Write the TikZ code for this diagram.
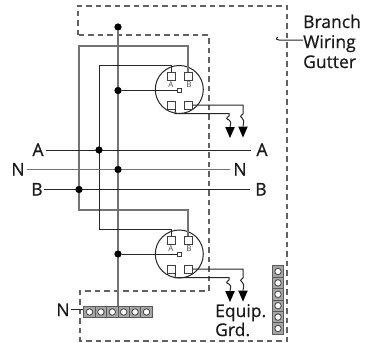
\documentclass[tikz,border=0pt]{standalone}
\usepackage{fontspec}
\setmainfont[BoldFont={Open Sans},BoldFeatures={FakeBold=0.6}]{Open Sans}
\tikzset{
 lbl/.style={inner sep=0pt,font=\bfseries\fontsize{17.5}{20}\selectfont,text=black!90},
 tiny/.style={inner sep=0pt,font=\fontsize{8}{8}\selectfont,text=black!70},
 term/.style={draw=black!75,fill=white,line width=1pt,minimum size=8pt,inner sep=0pt},
 smallterm/.style={draw=black!75,fill=white,line width=.9pt,minimum size=4pt,inner sep=0pt},
 meter/.style={draw=black!85,line width=1pt,circle,minimum size=48pt,inner sep=0pt},
 jdot/.style={circle,fill=black,minimum size=7pt,inner sep=0pt},
 gutter/.style={draw=black!62,line width=2pt,dash pattern=on 5.5pt off 4pt},
 darkw/.style={draw=black!85,line width=1pt},
 grayw/.style={draw=black!55,line width=1.5pt},
 gnd/.style={fill=black},
 barcell/.style={draw=black!65,fill=black!35,line width=.8pt,minimum size=11.4pt,inner sep=0pt},
 hole/.style={circle,draw=black!70,fill=white,line width=.9pt,minimum size=6.5pt,inner sep=0pt},
}
\begin{document}
\begin{tikzpicture}[x=1pt,y=-1pt]
\useasboundingbox (0,0) rectangle (365,343);
% gutter
\draw[gutter] (77.5,35) -- (77.5,5.5) -- (287,5.5) -- (287,340.5) -- (80,340.5) -- (80,291) -- (208.5,291) -- (208.5,35) -- cycle;
% coordinates
\coordinate (ntop) at (118,27);
\coordinate (a1) at (46,150); \coordinate (a2) at (251,150);
\coordinate (n1) at (27,169.5); \coordinate (n2) at (230,169.5);
\coordinate (b1) at (44,189.5); \coordinate (b2) at (250,189.5);
\coordinate (g1) at (230,127); \coordinate (g2) at (243,126.5);
\coordinate (g3) at (230,291); \coordinate (g4) at (243,290.5);
% meters
\node[meter] (m1) at (179.3,89.5) {};
\node[meter] (m2) at (179.3,254) {};
% bars
\foreach \i in {0,...,5} {
 \node[barcell] (h\i) at ({89.5+\i*11.4},312) {};
 \node[hole] at (h\i) {};
 \node[barcell] (v\i) at (278,{271.5+\i*11.4}) {};
 \node[hole] at (v\i) {};
}
% wires
\node[jdot] (dtop) at (ntop) {};
\node[jdot] (d1) at (118,90.5) {};
\node[jdot] (d2) at (118,254) {};
\node[jdot] (da) at (99,150) {};
\node[jdot] (dn) at (118,169.5) {};
\node[jdot] (db) at (79,189.5) {};
\node[term] (a1t) at (171,76) {}; \node[term] (b1t) at (188,76) {};
\node[term] (a1b) at (171,105) {}; \node[term] (b1b) at (188,105) {};
\node[term] (a2t) at (171,240) {}; \node[term] (b2t) at (188,240) {};
\node[term] (a2b) at (171,269) {}; \node[term] (b2b) at (188,269) {};
\node[smallterm] (s1) at (179.5,90.5) {};
\node[smallterm] (s2) at (179.5,254) {};
\draw[grayw] (dtop) -- (h2.north -| dtop);
\draw[grayw] (b1t.north) |- (79,46) -- (79,210) -| (b2t.north);
\draw[darkw] (a1t.north) |- (99,65) -- (99,229) -| (a2t.north);
\draw[darkw] (a1) -- (a2);
\draw[grayw,line width=1.3pt] (n1) -- (n2);
\draw[darkw] (b1) -- (b2);
\draw[darkw] (d1) -- (s1);
\draw[darkw] (d2) -- (s2);
% grounds
\foreach \g in {g1,g2,g3,g4} \fill[gnd,shift={(\g)}] (-4.8,0) -- (4.8,0) -- (0,11) -- cycle;
\draw[darkw] (b1b.east) -- (243,105) -- (243,114) .. controls (240,116) and (240,117) .. (242,118) .. controls (244,119) and (244,121) .. (g2);
\draw[darkw] (a1b.south east) -- (175,113.5) -- (229,113.5) -- (229,116) .. controls (226,118) and (226,119) .. (229,120) .. controls (231,121) and (231,122) .. (g1);
\draw[darkw] (b2b.east) -- (243,269) -- (243,278) .. controls (240,280) and (240,281) .. (242,282) .. controls (244,283) and (244,285) .. (g4);
\draw[darkw] (a2b.south east) -- (175,277.5) -- (229,277.5) -- (229,280) .. controls (226,282) and (226,283) .. (229,284) .. controls (231,285) and (231,286) .. (g3);
% joints on top
\node[jdot] at (ntop) {};
\node[jdot] at (118,90.5) {};
\node[jdot] at (118,254) {};
\node[jdot] at (99,150) {};
\node[jdot] at (118,169.5) {};
\node[jdot] at (79,189.5) {};
\node[tiny] at (171,85) {A}; \node[tiny] at (189,85) {B};
\node[tiny] at (171,249) {A}; \node[tiny] at (189,249) {B};
% labels
\node[lbl,anchor=base] (la) at (38,156) {A};
\node[lbl,anchor=base] (ln) at (18,175.5) {N};
\node[lbl,anchor=base] (lb) at (37,195.5) {B};
\node[lbl,anchor=base] (ra) at (262,156) {A};
\node[lbl,anchor=base] (rn) at (240,175.5) {N};
\node[lbl,anchor=base] (rb) at (261,195.5) {B};
\node[lbl,anchor=base] (nb) at (63,316) {N};
\coordinate (ntick) at (71,309);
\draw[darkw] (ntick) -- (ntick -| h0.west);
\node[lbl,anchor=base west] (eq) at (215,317) {Equip.};
\node[lbl,anchor=base west] (gr) at (215,336) {Grd.};
\node[lbl,anchor=base west] (br) at (303,28) {Branch};
\node[lbl,anchor=base west] (wi) at (303,48) {Wiring};
\node[lbl,anchor=base west] (gu) at (303,68) {Gutter};
\coordinate (hook) at (279,40);
\draw[darkw] (wi.west |- hook) -- (hook) .. controls (277,40) and (275,39) .. (278,37);
\end{tikzpicture}
\end{document}
